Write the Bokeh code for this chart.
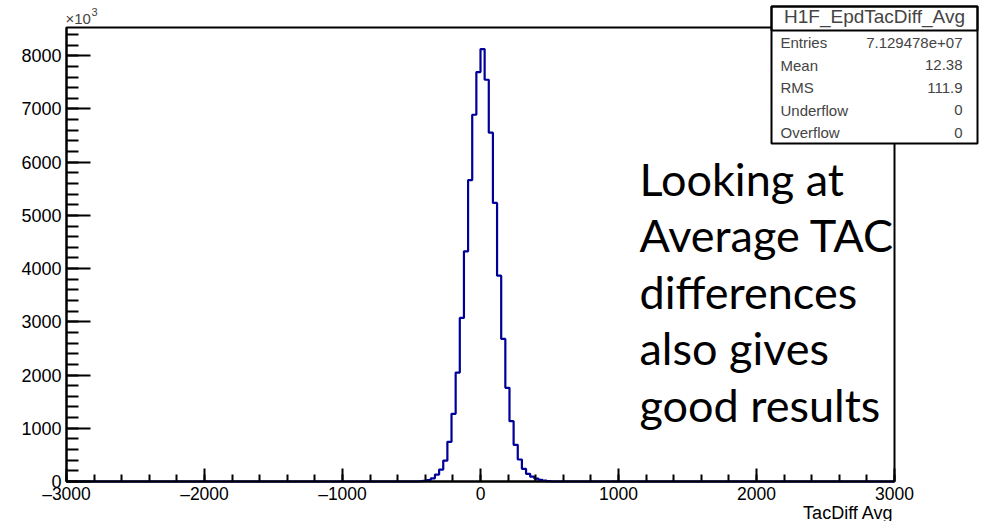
import numpy as np
from bokeh.plotting import figure
from bokeh.models import Range1d, SingleIntervalTicker, Label, BoxAnnotation
from bokeh.embed import file_html
from bokeh.resources import INLINE

# Histogram binning: 200 bins of width 30 over [-3000, 3000)
x_lo, x_hi, n_bins = -3000, 3000, 200

# Non-empty bins: lower edge and content (in units of 10^3 entries)
bin_low_edges = [-450, -420, -390, -360, -330, -300, -270, -240, -210, -180,
                 -150, -120, -90, -60, -30, 0, 30, 60, 90, 120,
                 150, 180, 210, 240, 270, 300, 330, 360, 390, 420,
                 450, 480]
bin_counts_k = [5, 12, 28, 60, 131, 225, 394, 745, 1271, 2047,
                3074, 4325, 5665, 6892, 7694, 8125, 7549, 6554, 5234, 3868,
                2680, 1760, 1133, 689, 413, 238, 145, 90, 55, 30,
                15, 7]

x_ticks = [-3000, -2000, -1000, 0, 1000, 2000, 3000]
x_tick_labels = ["\u20133000", "\u20132000", "\u20131000", "0", "1000", "2000", "3000"]
y_ticks = [0, 1000, 2000, 3000, 4000, 5000, 6000, 7000, 8000]
y_tick_labels = ["0", "1000", "2000", "3000", "4000", "5000", "6000", "7000", "8000"]

x_title = "TacDiff Avg"
stats_title = "H1F_EpdTacDiff_Avg"
stats_names = ["Entries", "Mean", "RMS", "Underflow", "Overflow"]
stats_values = ["7.129478e+07", "12.38", "111.9", "0", "0"]
note_lines = ["Looking at", "Average TAC", "differences", "also gives", "good results"]

# Fill full bin array
width = (x_hi - x_lo) / n_bins
edges = np.linspace(x_lo, x_hi, n_bins + 1)
contents = np.zeros(n_bins)
for lo, c in zip(bin_low_edges, bin_counts_k):
    contents[int(round((lo - x_lo) / width))] = c

y_max = 1.05 * contents.max()

# Canvas and pad geometry (pixels): the histogram frame sits inside the canvas
W, H = 999, 521
L, R, T, B = 66, 105, 27, 40
frame_w = W - L - R
frame_h = H - T - B
dx = (x_hi - x_lo) / frame_w
dy = y_max / frame_h


def sx(px):
    return x_lo + (px - L) * dx


def sy(py):
    return (H - B - py) * dy


# The plotting area spans the whole canvas so the pad decorations (stats box,
# exponent, axis title) can sit outside the histogram frame.
p = figure(width=W, height=H, output_backend="svg", toolbar_location=None,
           x_range=Range1d(sx(0), sx(W)), y_range=Range1d(sy(H), sy(0)),
           min_border=0, min_border_left=0, min_border_right=0,
           min_border_top=0, min_border_bottom=0)
p.background_fill_color = "white"
p.border_fill_color = "white"
p.outline_line_color = None
p.xgrid.visible = False
p.ygrid.visible = False

# histogram frame
p.add_layout(BoxAnnotation(left=x_lo, right=x_hi, bottom=0, top=y_max,
                           fill_alpha=0.0, line_color="black", line_alpha=1.0,
                           line_width=2, level="underlay"))

# histogram outline
step_y = np.append(contents, contents[-1])
p.step(x=edges, y=step_y, mode="after", line_color="#000099", line_width=2.2)

font = "Liberation Sans"

xa = p.xaxis[0]
xa.fixed_location = 0
xa.bounds = (x_lo, x_hi)
xa.ticker = SingleIntervalTicker(interval=1000, num_minor_ticks=5)
xa.major_label_overrides = {t: s for t, s in zip(x_ticks, x_tick_labels)}
xa.major_tick_in = 13
xa.major_tick_out = 0
xa.minor_tick_in = 7
xa.minor_tick_out = 0
xa.axis_line_width = 2
xa.major_tick_line_width = 2
xa.minor_tick_line_width = 2
xa.major_label_text_font = font
xa.major_label_text_font_size = "17.5px"
xa.major_label_text_color = "black"
xa.major_label_standoff = 2

ya = p.yaxis[0]
ya.fixed_location = x_lo
ya.bounds = (0, y_max)
ya.ticker = SingleIntervalTicker(interval=1000, num_minor_ticks=5)
ya.major_label_overrides = {t: s for t, s in zip(y_ticks, y_tick_labels)}
ya.major_tick_in = 24
ya.major_tick_out = 0
ya.minor_tick_in = 12
ya.minor_tick_out = 0
ya.axis_line_width = 2
ya.major_tick_line_width = 2
ya.minor_tick_line_width = 2
ya.major_label_text_font = font
ya.major_label_text_font_size = "18px"
ya.major_label_text_color = "black"
ya.major_label_standoff = 5
ya.major_label_orientation = "horizontal"

# axis title, right-aligned at the end of the axis
p.add_layout(Label(x=sx(893), y=sy(512), text=x_title, text_align="right",
                   text_baseline="alphabetic", text_font=font, text_font_size="18px",
                   text_color="black"))

# exponent marker on y axis
p.add_layout(Label(x=sx(65), y=sy(18), text="\u00d710", text_align="left",
                   text_baseline="alphabetic", text_font=font, text_font_size="15px"))
p.add_layout(Label(x=sx(91), y=sy(11), text="3", text_align="left",
                   text_baseline="alphabetic", text_font=font, text_font_size="11px"))

# statistics box
p.add_layout(BoxAnnotation(left=sx(771), right=sx(977), top=sy(6), bottom=sy(143),
                           fill_color="white", fill_alpha=1.0, line_color="black",
                           line_alpha=1.0, line_width=2, level="underlay"))
p.add_layout(BoxAnnotation(left=sx(771), right=sx(977), top=sy(6), bottom=sy(30),
                           fill_alpha=0.0, line_color="black", line_alpha=1.0,
                           line_width=2, level="underlay"))
p.add_layout(Label(x=sx(874), y=sy(16), text=stats_title, text_align="center",
                   text_baseline="alphabetic", text_font=font, text_font_size="19px"))
for i, (n, v) in enumerate(zip(stats_names, stats_values)):
    base = 42 + i * 22.5
    p.add_layout(Label(x=sx(780), y=sy(base), text=n, text_align="left",
                       text_baseline="alphabetic", text_font=font, text_font_size="15px"))
    p.add_layout(Label(x=sx(962), y=sy(base), text=v, text_align="right",
                       text_baseline="alphabetic", text_font=font, text_font_size="15px"))

# note text
for i, line in enumerate(note_lines):
    p.add_layout(Label(x=sx(639), y=sy(178 + i * 56.5), text=line, text_align="left",
                       text_baseline="alphabetic", text_font="Lato", text_font_size="45px",
                       text_color="black"))

open("out.html", "w").write(file_html(p, INLINE))
